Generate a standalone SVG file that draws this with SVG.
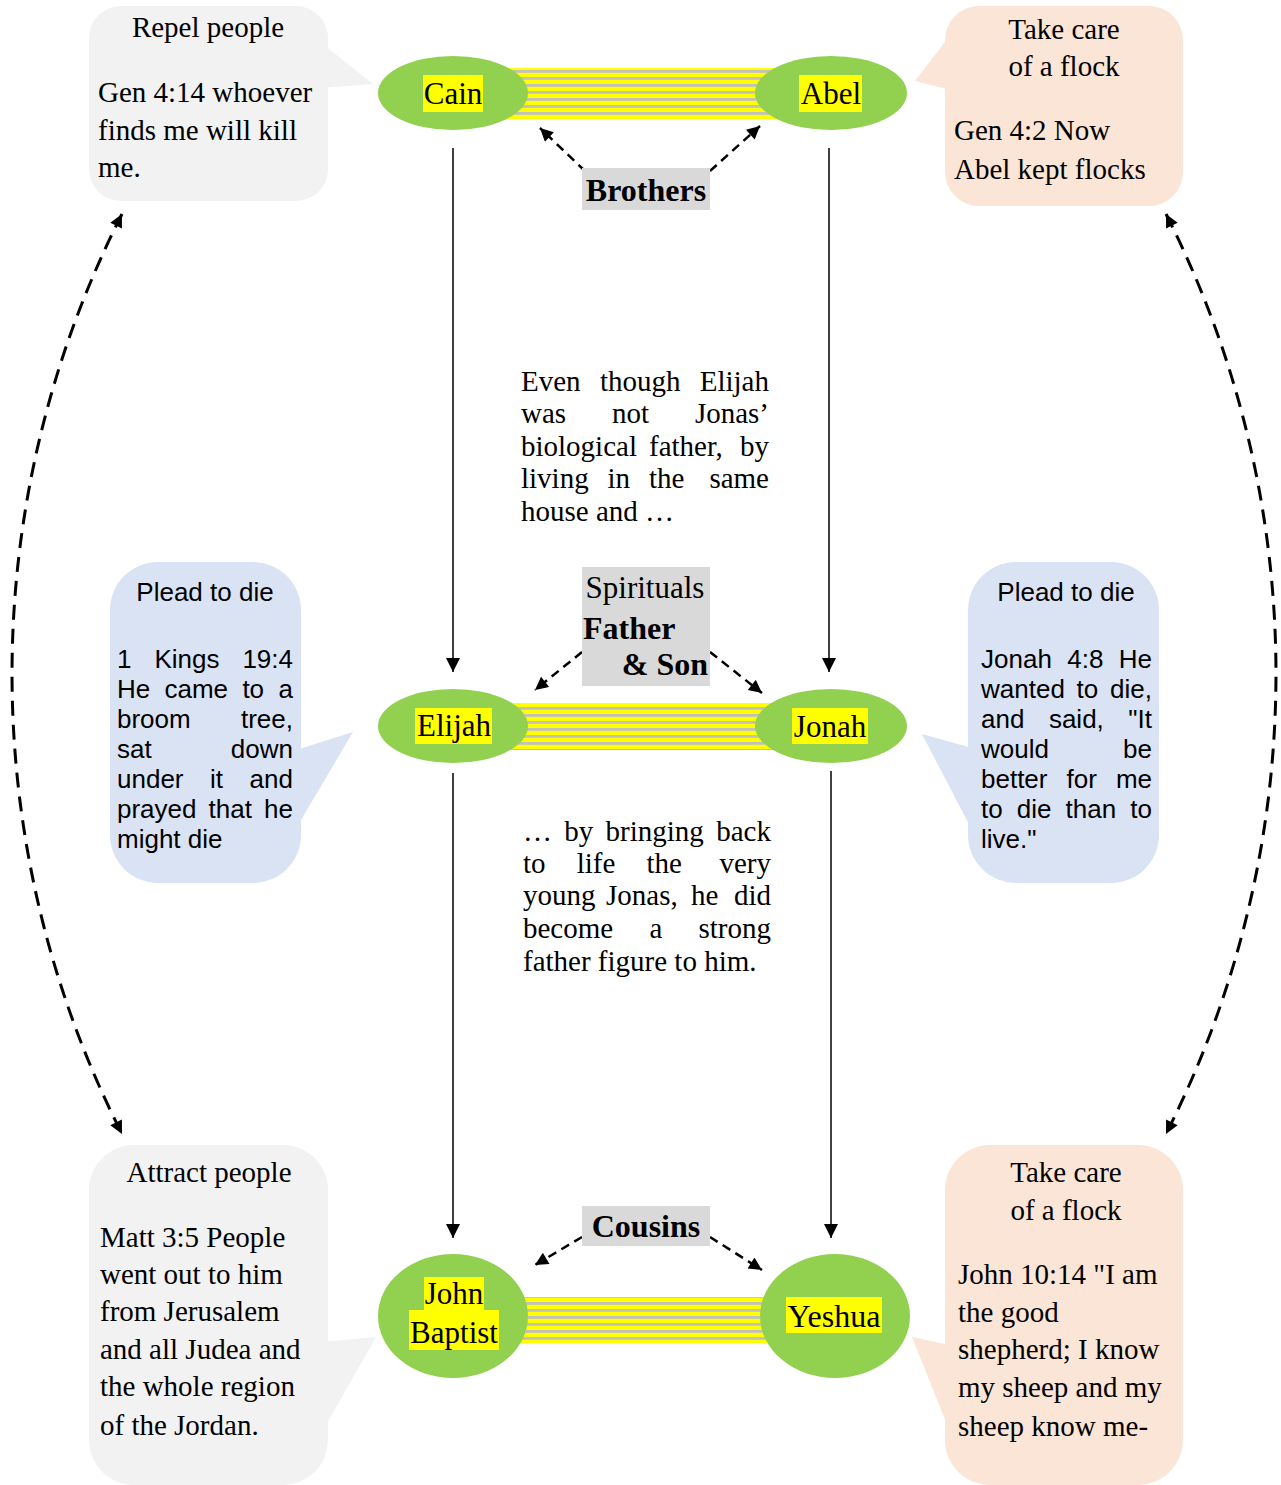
<svg xmlns="http://www.w3.org/2000/svg" width="1281" height="1485" viewBox="0 0 1281 1485">
<style>
.serif{font-family:"Liberation Serif","Times New Roman",serif;font-size:29px;fill:#000}
.lbl{font-family:"Liberation Serif","Times New Roman",serif;font-size:31px;fill:#000;text-anchor:middle}
.bold{font-family:"Liberation Serif","Times New Roman",serif;font-size:32px;font-weight:bold;fill:#000}
.sans{font-family:"Liberation Sans",Arial,sans-serif;font-size:26px;fill:#000}
.mid{text-anchor:middle}
.end{text-anchor:end}
.node{fill:#92D050}
.hl{fill:#FFFF00}
.grey{fill:#F2F2F2}
.peach{fill:#FBE5D6}
.blue{fill:#DAE3F3}
.tag{fill:#D9D9D9}
.band{fill:url(#stripes)}
.solid{stroke:#000;stroke-width:1.5;fill:none;marker-end:url(#ah)}
.dash{stroke:#000;stroke-width:2.5;fill:none;stroke-dasharray:9 6;marker-end:url(#ahd)}
.big{stroke:#000;stroke-width:3;fill:none;stroke-dasharray:15 9;marker-start:url(#ahd);marker-end:url(#ahd)}
</style>
<defs>
<pattern id="stripes" x="0" y="0" width="20" height="7" patternUnits="userSpaceOnUse">
<rect width="20" height="7" fill="#FFFF00"/>
<rect width="20" height="2.8" fill="#C0C0C0"/>
</pattern>
<marker id="ah" viewBox="0 0 10 10" refX="10" refY="5" markerWidth="16" markerHeight="14" markerUnits="userSpaceOnUse" orient="auto-start-reverse">
<path d="M0,0 L10,5 L0,10 z" fill="#000"/>
</marker>
<marker id="ahd" viewBox="0 0 10 10" refX="10" refY="5" markerWidth="15" markerHeight="13" markerUnits="userSpaceOnUse" orient="auto-start-reverse">
<path d="M0,0 L10,5 L0,10 z" fill="#000"/>
</marker>
</defs>

<!-- callouts -->
<g id="callout-repel">
<rect class="grey" x="89" y="6" width="239" height="195" rx="32"/>
<polygon class="grey" points="305,30 373,84 320,88"/>
<text class="serif mid" x="208" y="37">Repel people</text>
<text class="serif" x="98" y="102">Gen 4:14 whoever</text>
<text class="serif" x="98" y="140">finds me will kill</text>
<text class="serif" x="98" y="177">me.</text>
</g>
<g id="callout-flock-top">
<rect class="peach" x="945" y="6" width="238" height="200" rx="34"/>
<polygon class="peach" points="948,38 915,81 950,90"/>
<text class="serif mid" x="1064" y="39">Take care</text>
<text class="serif mid" x="1064" y="76">of a flock</text>
<text class="serif" x="954" y="140">Gen 4:2 Now</text>
<text class="serif" x="954" y="179">Abel kept flocks</text>
</g>
<g id="callout-plead-left">
<rect class="blue" x="110" y="562" width="191" height="321" rx="48"/>
<polygon class="blue" points="296,750 353,732 298,825"/>
<text class="sans mid" x="205" y="601">Plead to die</text>
<text class="sans" x="117" y="668">1</text><text class="sans" x="154.5" y="668">Kings</text><text class="sans end" x="293" y="668">19:4</text>
<text class="sans" x="117" y="698">He</text><text class="sans" x="164.5" y="698">came</text><text class="sans" x="242.4" y="698">to</text><text class="sans end" x="293" y="698">a</text>
<text class="sans" x="117" y="728">broom</text><text class="sans end" x="293" y="728">tree,</text>
<text class="sans" x="117" y="758">sat</text><text class="sans end" x="293" y="758">down</text>
<text class="sans" x="117" y="788">under</text><text class="sans" x="210" y="788">it</text><text class="sans end" x="293" y="788">and</text>
<text class="sans" x="117" y="818">prayed</text><text class="sans" x="208.6" y="818">that</text><text class="sans end" x="293" y="818">he</text>
<text class="sans" x="117" y="848">might die</text>
</g>
<g id="callout-plead-right">
<rect class="blue" x="968" y="562" width="191" height="321" rx="48"/>
<polygon class="blue" points="972,748 922,734 972,830"/>
<text class="sans mid" x="1066" y="601">Plead to die</text>
<text class="sans" x="981" y="668">Jonah</text><text class="sans" x="1067.3" y="668">4:8</text><text class="sans end" x="1152" y="668">He</text>
<text class="sans" x="981" y="698">wanted</text><text class="sans" x="1076.6" y="698">to</text><text class="sans end" x="1152" y="698">die,</text>
<text class="sans" x="981" y="728">and</text><text class="sans" x="1048.9" y="728">said,</text><text class="sans end" x="1152" y="728">"It</text>
<text class="sans" x="981" y="758">would</text><text class="sans end" x="1152" y="758">be</text>
<text class="sans" x="981" y="788">better</text><text class="sans" x="1066.5" y="788">for</text><text class="sans end" x="1152" y="788">me</text>
<text class="sans" x="981" y="818">to</text><text class="sans" x="1016.8" y="818">die</text><text class="sans" x="1065.6" y="818">than</text><text class="sans end" x="1152" y="818">to</text>
<text class="sans" x="981" y="848">live."</text>
</g>
<g id="callout-attract">
<rect class="grey" x="89" y="1145" width="239" height="340" rx="45"/>
<polygon class="grey" points="322,1342 376,1337 322,1432"/>
<text class="serif mid" x="209" y="1182">Attract people</text>
<text class="serif" x="100" y="1247">Matt 3:5 People</text>
<text class="serif" x="100" y="1284">went out to him</text>
<text class="serif" x="100" y="1321">from Jerusalem</text>
<text class="serif" x="100" y="1359">and all Judea and</text>
<text class="serif" x="100" y="1396">the whole region</text>
<text class="serif" x="100" y="1435">of the Jordan.</text>
</g>
<g id="callout-flock-bottom">
<rect class="peach" x="945" y="1145" width="238" height="340" rx="45"/>
<polygon class="peach" points="950,1345 912,1337 950,1432"/>
<text class="serif mid" x="1066" y="1182">Take care</text>
<text class="serif mid" x="1066" y="1220">of a flock</text>
<text class="serif" x="958" y="1284">John 10:14 "I am</text>
<text class="serif" x="958" y="1322">the good</text>
<text class="serif" x="958" y="1359">shepherd; I know</text>
<text class="serif" x="958" y="1397">my sheep and my</text>
<text class="serif" x="958" y="1436">sheep know me-</text>
</g>

<!-- bands -->
<g id="bands">
<rect class="band" x="505" y="68" width="275" height="51"/>
<rect class="band" x="505" y="703" width="275" height="47"/>
<rect class="band" x="505" y="1297" width="275" height="46"/>
</g>

<!-- connectors -->
<g id="connectors">
<path class="solid" d="M453 148 L453 672"/>
<path class="solid" d="M829 148 L829 672"/>
<path class="solid" d="M453 773 L453 1238"/>
<path class="solid" d="M831 771 L831 1238"/>
<path class="dash" d="M585 171 L540 128"/>
<path class="dash" d="M710 171 L760 126"/>
<path class="dash" d="M582 652 L535 690"/>
<path class="dash" d="M710 652 L762 693"/>
<path class="dash" d="M582 1237 L535 1265"/>
<path class="dash" d="M710 1237 L762 1270"/>
<path class="big" d="M122 214 A1017 1017 0 0 0 122 1134"/>
<path class="big" d="M1166 214 A1017 1017 0 0 1 1166 1134"/>
</g>

<!-- nodes -->
<g id="node-cain">
<ellipse class="node" cx="453" cy="93" rx="75" ry="37"/>
<rect class="hl" x="423" y="75" width="60" height="37"/>
<text class="lbl" x="453" y="104">Cain</text>
</g>
<g id="node-abel">
<ellipse class="node" cx="831" cy="93" rx="76" ry="37"/>
<rect class="hl" x="799" y="75" width="63" height="37"/>
<text class="lbl" x="831" y="104">Abel</text>
</g>
<g id="node-elijah">
<ellipse class="node" cx="453" cy="726" rx="75" ry="37"/>
<rect class="hl" x="415" y="708" width="77" height="36"/>
<text class="lbl" x="454" y="736">Elijah</text>
</g>
<g id="node-jonah">
<ellipse class="node" cx="831" cy="726" rx="76" ry="37"/>
<rect class="hl" x="792" y="708" width="76" height="36"/>
<text class="lbl" x="830" y="737">Jonah</text>
</g>
<g id="node-john">
<ellipse class="node" cx="453" cy="1316" rx="75" ry="62"/>
<rect class="hl" x="424" y="1277" width="60" height="33"/>
<rect class="hl" x="409" y="1310" width="90" height="40"/>
<text class="lbl" x="454" y="1304">John</text>
<text class="lbl" x="454" y="1343">Baptist</text>
</g>
<g id="node-yeshua">
<ellipse class="node" cx="835" cy="1316" rx="75" ry="62"/>
<rect class="hl" x="786" y="1297" width="96" height="36"/>
<text class="lbl" x="834" y="1327" style="font-size:32px">Yeshua</text>
</g>

<!-- relation labels -->
<g id="label-brothers">
<rect class="tag" x="582" y="168" width="128" height="42"/>
<text class="bold mid" x="646" y="201">Brothers</text>
</g>
<g id="label-father-son">
<rect class="tag" x="582" y="567" width="128" height="119"/>
<text class="serif mid" x="645" y="598" style="font-size:31px">Spirituals</text>
<text class="bold" x="583" y="639">Father</text>
<text class="bold end" x="708" y="675">&amp; Son</text>
</g>
<g id="label-cousins">
<rect class="tag" x="582" y="1206" width="128" height="40"/>
<text class="bold mid" x="646" y="1237">Cousins</text>
</g>

<!-- middle notes -->
<g id="note-top" class="serif">
<text x="521" y="391">Even</text><text x="600" y="391">though</text><text x="769" y="391" class="end">Elijah</text>
<text x="521" y="423">was</text><text x="612" y="423">not</text><text x="769" y="423" class="end">Jonas’</text>
<text x="521" y="456">biological</text><text x="649" y="456">father,</text><text x="769" y="456" class="end">by</text>
<text x="521" y="488">living</text><text x="607.5" y="488">in</text><text x="649" y="488">the</text><text x="769" y="488" class="end">same</text>
<text x="521" y="521">house and …</text>
</g>
<g id="note-bottom" class="serif">
<text x="523" y="841">…</text><text x="564.3" y="841">by</text><text x="605.6" y="841">bringing</text><text x="771" y="841" class="end">back</text>
<text x="523" y="873">to</text><text x="576.7" y="873">life</text><text x="646.4" y="873">the</text><text x="771" y="873" class="end">very</text>
<text x="523" y="905">young</text><text x="606" y="905">Jonas,</text><text x="691" y="905">he</text><text x="771" y="905" class="end">did</text>
<text x="523" y="938">become</text><text x="649.4" y="938">a</text><text x="771" y="938" class="end">strong</text>
<text x="523" y="971">father figure to him.</text>
</g>
</svg>
